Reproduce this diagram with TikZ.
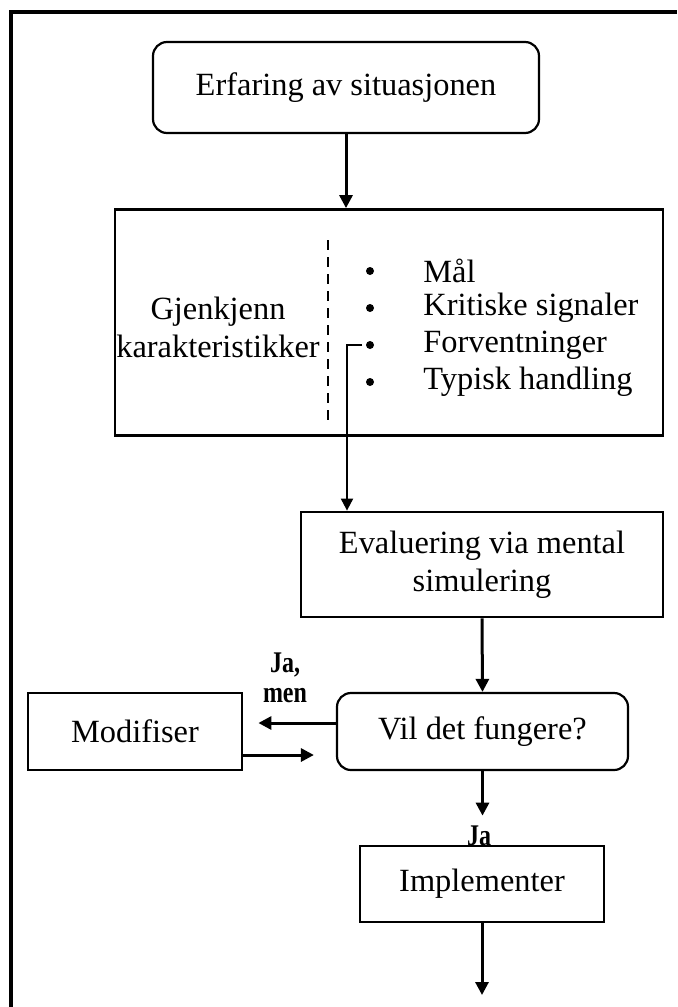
\documentclass[tikz,border=0pt]{standalone}
\usepackage{fontspec}
\setmainfont{Liberation Serif}
\usetikzlibrary{arrows.meta,positioning}

\begin{document}
\begin{tikzpicture}[x=0.5pt,y=-0.5pt,
    font=\fontsize{16.2}{19}\selectfont,
    box/.style={draw,line width=1.4pt,inner sep=0pt,align=center},
    roundbox/.style={box,rounded corners=7pt,line width=1.1pt},
    arr/.style={line width=1.5pt,-{Triangle[length=6.5pt,width=6.5pt]}},
    lbl/.style={font=\fontsize{15}{15}\selectfont\bfseries,align=center,inner sep=0pt}]

  \useasboundingbox (0,0) rectangle (677,1007);

  % frame, open to the right and at the bottom
  \draw[line width=2pt] (11,1007) -- (11,12) -- (677,12);

  \node[roundbox,minimum width=193pt,minimum height=45.5pt] (erfaring) at (346,87.5) {Erfaring av situasjonen};

  \node[box,minimum width=274pt,minimum height=113pt] (gjenkjenn) at (389,322.5) {};
  \node[align=center,inner sep=0pt] (kar) at (218,327) {Gjenkjenn\\karakteristikker};
  \draw[dashed,line width=0.7pt,dash pattern=on 5pt off 3.5pt] (328,240) -- (328,420);

  \foreach \txt [count=\i] in {Mål,Kritiske signaler,Forventninger,Typisk handling} {
    \node[circle,fill,inner sep=0pt,minimum size=4pt] (b\i) at (370,{234+37*\i}) {};
    \node[anchor=west,inner sep=0pt] (t\i) at (423,{234+37*\i}) {\txt};
  }

  \node[box,minimum width=181pt,minimum height=52.5pt] (evaluering) at (482,564.5) {Evaluering via mental\\simulering};
  \node[roundbox,minimum width=145.5pt,minimum height=38.5pt] (fungere) at (482.5,731.5) {Vil det fungere?};
  \node[box,minimum width=107pt,minimum height=38.5pt] (modifiser) at (135,731.5) {Modifiser};
  \node[box,minimum width=122pt,minimum height=38pt] (implementer) at (482,884) {Implementer};

  \node[lbl] (jamen) at (285,678) {\scalebox{0.8}[1]{Ja,}\\\scalebox{0.8}[1]{men}};
  \node[lbl] (ja) at (479,836) {\scalebox{0.8}[1]{Ja}};

  % connectors
  \draw[arr] (erfaring.south) -- (erfaring.south |- gjenkjenn.north);
  \coordinate (fstart) at (362,345);
  \coordinate (knee) at (347,345);
  \draw[line width=1pt,-{Triangle[length=6pt,width=6pt]}] (fstart) -- (knee) -- (knee |- evaluering.north);
  \draw[arr] (evaluering.south) -- (fungere.north);
  \draw[arr,shorten >=7.5pt] ([yshift=4.25pt]fungere.west) -- ([yshift=4.25pt]modifiser.east);
  \draw[arr,shorten >=11pt] ([yshift=-11.75pt]modifiser.east) -- ([yshift=-11.75pt]fungere.west);
  \draw[arr,shorten >=5pt] (fungere.south) -- (fungere.south |- ja.north);
  \coordinate (ende) at (482,995);
  \draw[arr] (implementer.south) -- (ende);
\end{tikzpicture}
\end{document}
